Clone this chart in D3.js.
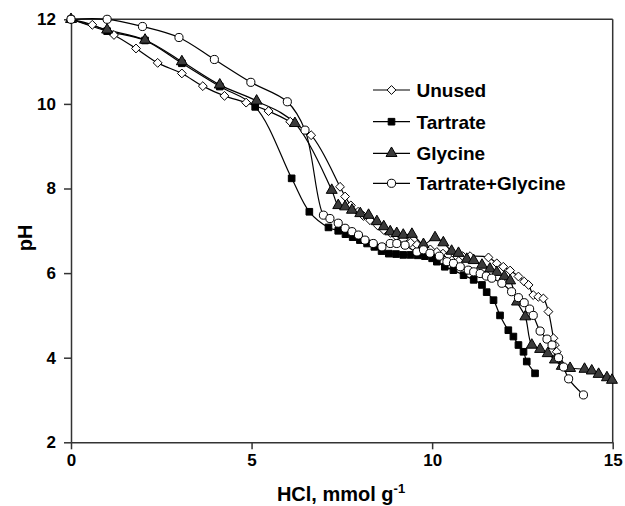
<!DOCTYPE html>
<html><head><meta charset="utf-8">
<script src="https://cdn.jsdelivr.net/npm/d3@7"></script>
<style>body{margin:0;background:#fff}svg{display:block}text{font-family:"Liberation Sans",Arial,sans-serif;font-weight:bold;fill:#000}</style>
</head><body><svg id="c" width="625" height="506"></svg>
<script>
const xTicks=[0,5,10,15];
const yTicks=[2,4,6,8,10,12];
const seriesNames=["Unused","Tartrate","Glycine","Tartrate+Glycine"];
const unused=[[0,12],[0.59,11.87],[1.19,11.63],[1.8,11.31],[2.4,10.97],[3.07,10.72],[3.65,10.42],[4.25,10.19],[4.85,10.03],[5.47,9.83],[6.07,9.58],[6.65,9.26],[7.45,8.04],[7.59,7.81],[7.75,7.6],[7.95,7.45],[8.1,7.35],[8.28,7.25],[8.5,7.12],[8.66,7.02],[8.85,6.95],[9.02,6.86],[9.2,6.8],[9.4,6.72],[9.58,6.67],[9.76,6.62],[9.95,6.56],[10.13,6.5],[10.3,6.46],[10.45,6.43],[10.65,6.42],[10.85,6.4],[11.05,6.4],[11.56,6.37],[11.79,6.23],[11.97,6.15],[12.16,6.06],[12.39,5.92],[12.55,5.8],[12.67,5.72],[12.8,5.48],[12.94,5.44],[13.08,5.4],[13.22,5.09],[13.36,4.46],[13.4,4.3],[13.45,4.14],[13.5,4.0]];
const tartrate=[[0,12],[1.0,11.72],[2.05,11.5],[3.07,10.96],[4.12,10.41],[5.1,9.93],[6.11,8.24],[6.6,7.45],[7.13,7.08],[7.4,7.0],[7.6,6.92],[7.8,6.85],[8.0,6.78],[8.2,6.7],[8.4,6.62],[8.6,6.52],[8.8,6.46],[9.0,6.45],[9.2,6.43],[9.4,6.43],[9.6,6.42],[9.8,6.4],[10.0,6.35],[10.13,6.27],[10.35,6.15],[10.59,6.07],[10.87,5.95],[11.15,5.84],[11.38,5.72],[11.51,5.55],[11.7,5.36],[11.88,5.0],[12.11,4.65],[12.25,4.5],[12.39,4.3],[12.53,4.14],[12.62,3.91],[12.85,3.63]];
const glycine=[[0,12],[1.0,11.75],[2.05,11.51],[3.07,11.0],[4.12,10.45],[5.14,10.07],[6.2,9.54],[7.22,7.96],[7.4,7.6],[7.59,7.57],[7.78,7.49],[8.01,7.41],[8.24,7.37],[8.47,7.22],[8.66,7.1],[8.84,6.98],[9.02,6.94],[9.2,6.9],[9.44,6.92],[9.76,6.68],[10.08,6.84],[10.31,6.72],[10.54,6.52],[10.73,6.47],[10.96,6.33],[11.15,6.3],[11.38,6.19],[11.6,6.1],[11.79,6.02],[12.0,5.92],[12.16,5.82],[12.35,5.32],[12.58,4.97],[12.76,4.3],[12.99,4.2],[13.2,4.1],[13.4,3.95],[13.59,3.8],[13.82,3.75],[14.22,3.73],[14.42,3.69],[14.61,3.61],[14.84,3.53],[14.98,3.47]];
const tartGly=[[0,12],[1.0,12.0],[1.98,11.83],[2.99,11.57],[3.97,11.05],[4.98,10.51],[5.99,10.05],[6.48,9.38],[6.99,7.37],[7.17,7.29],[7.4,7.18],[7.59,7.06],[7.78,6.98],[7.96,6.9],[8.14,6.78],[8.37,6.7],[8.61,6.62],[8.84,6.7],[9.02,6.7],[9.25,6.66],[9.58,6.5],[9.76,6.55],[9.94,6.47],[10.2,6.4],[10.41,6.27],[10.59,6.23],[10.78,6.15],[11.0,6.07],[11.15,6.03],[11.33,5.99],[11.5,5.93],[11.65,5.88],[11.93,5.76],[12.2,5.56],[12.39,5.42],[12.55,5.3],[12.7,5.15],[12.8,5.0],[12.99,4.63],[13.18,4.44],[13.32,4.3],[13.5,4.0],[13.64,3.78],[13.78,3.5],[14.19,3.12]];

const svg=d3.select("#c");
const x=d3.scaleLinear().domain([0,15]).range([71,612.7]);
const y=d3.scaleLinear().domain([2,12]).range([442.3,19.3]);
const axCol="#333";
svg.append("line").attr("x1",x(0)).attr("x2",x(15)).attr("y1",y(12)).attr("y2",y(12)).attr("stroke",axCol).attr("stroke-width",1.5);
svg.append("line").attr("x1",x(15)).attr("x2",x(15)).attr("y1",y(12)).attr("y2",y(2)).attr("stroke",axCol).attr("stroke-width",1.5);
const xa=svg.append("g").attr("transform",`translate(0,${y(2)})`).call(d3.axisBottom(x).tickValues(xTicks).tickSize(7).tickPadding(5).tickSizeOuter(0));
const ya=svg.append("g").attr("transform",`translate(${x(0)},0)`).call(d3.axisLeft(y).tickValues(yTicks).tickSize(7).tickPadding(8).tickSizeOuter(0));
[xa,ya].forEach(a=>{a.selectAll("path,line").attr("stroke",axCol).attr("stroke-width",1.5);a.selectAll("text").style("font-size","17px").style("font-weight","bold").attr("fill","#000").style("font-family","'Liberation Sans',Arial,sans-serif");});

const line=d3.line().x(d=>x(d[0])).y(d=>y(d[1])).curve(d3.curveCatmullRom.alpha(0.5));
const sym={
 "Unused":{type:d3.symbolDiamond2,size:50,fill:"#fff"},
 "Tartrate":{type:d3.symbolSquare,size:44,fill:"#000"},
 "Glycine":{type:d3.symbolTriangle,size:52,fill:"#3a3a3a"},
 "Tartrate+Glycine":{type:d3.symbolCircle,size:52,fill:"#fff"}
};
const all=[unused,tartrate,glycine,tartGly];
all.forEach((s,i)=>{
 svg.append("path").attr("d",line(s)).attr("fill","none").attr("stroke","#000").attr("stroke-width",1.2);
});
all.forEach((s,i)=>{
 const m=sym[seriesNames[i]];
 svg.append("g").selectAll("path").data(s).join("path")
  .attr("transform",d=>`translate(${x(d[0])},${y(d[1])})`)
  .attr("d",d3.symbol().type(m.type).size(m.size)())
  .attr("fill",m.fill).attr("stroke","#000").attr("stroke-width",1);
});
const lg=svg.append("g");
const ly=[90,121.7,153.3,183.3];
seriesNames.forEach((n,i)=>{
 const m=sym[n];
 lg.append("line").attr("x1",373).attr("x2",410).attr("y1",ly[i]).attr("y2",ly[i]).attr("stroke","#000").attr("stroke-width",1.2);
 lg.append("path").attr("transform",`translate(391.5,${ly[i]})`).attr("d",d3.symbol().type(m.type).size(m.size)()).attr("fill",m.fill).attr("stroke","#000");
 lg.append("text").attr("x",416.5).attr("y",ly[i]+7).style("font-size","19px").text(n);
});
const xt=svg.append("text").attr("x",341).attr("y",501).attr("text-anchor","middle").style("font-size","20px");
xt.append("tspan").text("HCl, mmol g");
xt.append("tspan").attr("dy",-8).style("font-size","13px").text("-1");
svg.append("text").attr("transform","translate(32,238) rotate(-90)").attr("text-anchor","middle").style("font-size","20px").text("pH");
</script></body></html>
